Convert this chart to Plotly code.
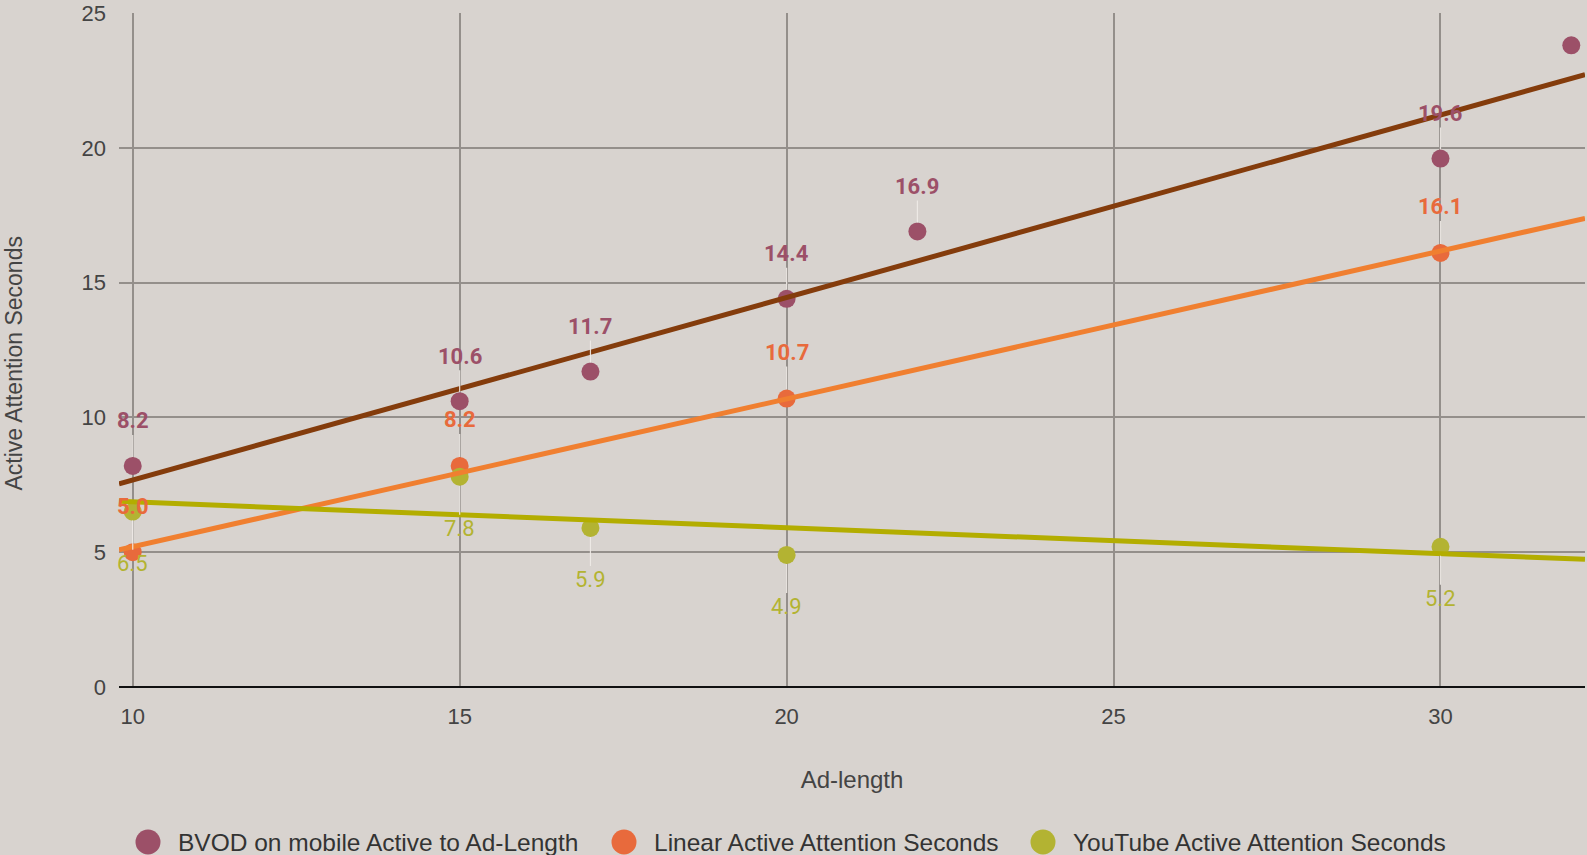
import numpy as np
import plotly.graph_objects as go

# Ad length (seconds) and active attention seconds per platform
bvod_x = [10, 15, 17, 20, 22, 30, 32]
bvod_y = [8.2, 10.6, 11.7, 14.4, 16.9, 19.6, 23.8]

linear_x = [10, 15, 20, 30]
linear_y = [5.0, 8.2, 10.7, 16.1]

youtube_x = [10, 15, 17, 20, 30]
youtube_y = [6.5, 7.8, 5.9, 4.9, 5.2]

x_ticks = [10, 15, 20, 25, 30]
y_ticks = [0, 5, 10, 15, 20, 25]

X_RANGE = [9.79, 32.21]
Y_RANGE = [0, 25]

W, H = 1587, 855
M_L, M_R, M_T, M_B = 119, 2, 13, 168
PLOT_W = W - M_L - M_R
PLOT_H = H - M_T - M_B

BG = "#d8d3cf"
GRID = "#948f8b"
LABEL_FONT = "Roboto"
TEXT_FONT = "Liberation Sans, Arial"

series = [
    dict(name="BVOD on mobile Active to Ad-Length", x=bvod_x, y=bvod_y,
         marker="#9c5068", trend="#843c0c", label_dy=-45, bold=True),
    dict(name="Linear Active Attention Seconds", x=linear_x, y=linear_y,
         marker="#e86a3c", trend="#f07f30", label_dy=-46, bold=True),
    dict(name="YouTube Active Attention Seconds", x=youtube_x, y=youtube_y,
         marker="#b3b332", trend="#b3ad00", label_dy=52, bold=False),
]

fig = go.Figure()

# scatter points
for s in series:
    fig.add_trace(go.Scatter(
        x=s["x"], y=s["y"], mode="markers", name=s["name"], showlegend=False,
        marker=dict(color=s["marker"], size=18, line=dict(width=0)),
        cliponaxis=False,
    ))

# least-squares trend lines across the whole x range
for s in series:
    slope, intercept = np.polyfit(s["x"], s["y"], 1)
    tx = np.array(X_RANGE)
    fig.add_trace(go.Scatter(
        x=tx, y=slope * tx + intercept, mode="lines", showlegend=False,
        hoverinfo="skip", line=dict(color=s["trend"], width=5),
    ))

# value labels with faint leader lines
annotations = []
for s in series:
    for xv, yv in zip(s["x"], s["y"]):
        if xv > X_RANGE[1] - 1:
            # this label would sit above the top of the plot
            continue
        txt = f"{yv:.1f}"
        if s["bold"]:
            txt = f"<b>{txt}</b>"
        annotations.append(dict(
            x=xv, y=yv, xref="x", yref="y", text=txt,
            showarrow=True, ax=0, ay=s["label_dy"], arrowhead=0,
            arrowwidth=1.2, arrowcolor="rgba(240,236,232,0.9)", standoff=9,
            font=dict(family=LABEL_FONT, size=22, color=s["marker"]),
        ))

annotations.append(dict(
    text="Active Attention Seconds", xref="paper", yref="paper",
    x=-0.0716, y=0.48, textangle=-90, showarrow=False,
    xanchor="center", yanchor="middle",
    font=dict(family=TEXT_FONT, size=23, color="#444444"),
))


def px_to_paper_x(px):
    return (px - M_L) / PLOT_W


def px_to_paper_y(py):
    return (H - M_B - py) / PLOT_H


# legend row below the axis title: big round swatches followed by names
legend_swatch_px = [148, 624, 1043]
legend_y_px = 842
shapes = []
for s, sx in zip(series, legend_swatch_px):
    shapes.append(dict(
        type="circle", xref="paper", yref="paper",
        xsizemode="pixel", ysizemode="pixel",
        xanchor=px_to_paper_x(sx), yanchor=px_to_paper_y(legend_y_px),
        x0=-12.5, x1=12.5, y0=-12.5, y1=12.5,
        fillcolor=s["marker"], line=dict(width=0),
    ))
    annotations.append(dict(
        text=s["name"], xref="paper", yref="paper",
        x=px_to_paper_x(sx + 28), y=px_to_paper_y(legend_y_px),
        xanchor="left", yanchor="middle", showarrow=False,
        font=dict(family=TEXT_FONT, size=24.5, color="#333333"),
    ))

fig.update_layout(
    width=W, height=H,
    paper_bgcolor=BG, plot_bgcolor=BG,
    margin=dict(l=M_L, r=M_R, t=M_T, b=M_B),
    font=dict(family=TEXT_FONT, size=22, color="#444444"),
    annotations=annotations,
    shapes=shapes,
    showlegend=False,
)

fig.update_xaxes(
    range=X_RANGE, tickvals=x_ticks, showgrid=True, gridcolor=GRID,
    gridwidth=1.5, zeroline=False, showline=False, ticks="",
    ticklabelstandoff=14,
    tickfont=dict(family=TEXT_FONT, size=22, color="#444444"),
    title=dict(text="Ad-length",
               font=dict(family=TEXT_FONT, size=24, color="#444444"),
               standoff=43),
)
fig.update_yaxes(
    range=Y_RANGE, tickvals=y_ticks, showgrid=True, gridcolor=GRID,
    gridwidth=1.5, zeroline=True, zerolinecolor="#111111", zerolinewidth=2,
    showline=False, ticks="", ticklabelstandoff=12,
    tickfont=dict(family=TEXT_FONT, size=22, color="#444444"),
)

fig.write_html("out.html")
